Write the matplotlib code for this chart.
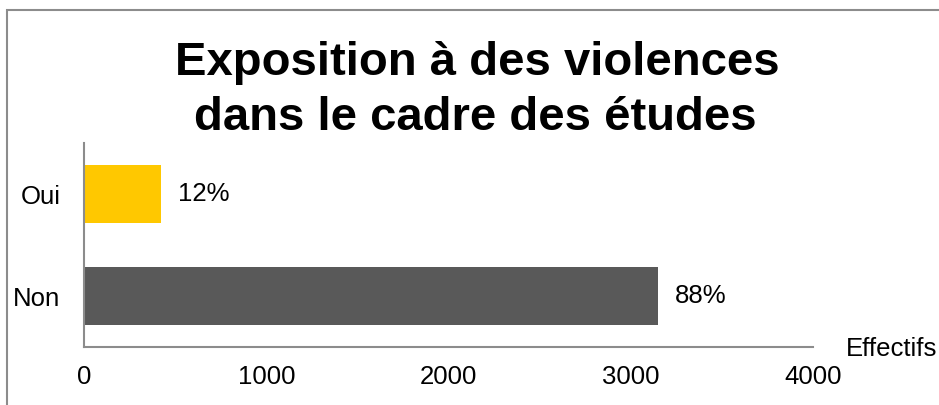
import matplotlib
matplotlib.use("Agg")
import matplotlib.pyplot as plt
from matplotlib.patches import Rectangle

categories = ["Non", "Oui"]
values = [3148, 422]
labels = ["88%", "12%"]
colors = ["#595959", "#FFC800"]
title_lines = ["Exposition à des violences", "dans le cadre des études"]
xticks = [0, 1000, 2000, 3000, 4000]

W, H = 939, 405
fig = plt.figure(figsize=(W / 100, H / 100), dpi=100)
plt.rcParams['font.family'] = ['Liberation Sans', 'DejaVu Sans']

# outer frame (extends beyond right and bottom edges)
fig.patches.append(Rectangle((7 / W, -0.1), 1.2, 1 - 10 / H + 0.1, transform=fig.transFigure,
                             fill=False, edgecolor="#8c8c8c", linewidth=1.5))

left, right, bottom, top = 84, 813, 347, 143
ax = fig.add_axes([left / W, 1 - bottom / H, (right - left) / W, (bottom - top) / H])
ypos = list(range(len(categories)))
ax.barh(ypos, values, height=0.57, color=colors)
ax.set_xlim(0, 4000)
ax.set_ylim(-0.5, 1.5)
ax.set_yticks(ypos)
ax.set_yticklabels(categories, fontsize=18.5)
ax.set_xticks(xticks)
ax.set_xticklabels([str(t) for t in xticks], fontsize=18.5)
ax.tick_params(axis='x', length=0, pad=13)
ax.tick_params(axis='y', length=0, pad=17)
for s in ["top", "right"]:
    ax.spines[s].set_visible(False)
for s in ["left", "bottom"]:
    ax.spines[s].set_color("#8c8c8c")
    ax.spines[s].set_linewidth(1.5)
for y, v, lab in zip(ypos, values, labels):
    ax.annotate(lab, (v, y), xytext=(12, 0), textcoords="offset points",
                va="center", ha="left", fontsize=18.5)
fig.text(846 / W, 1 - 356 / H, "Effectifs", fontsize=18.5, ha="left", va="baseline")

fig.text(477 / W, 1 - 75 / H, title_lines[0], ha="center", va="baseline",
         fontsize=34, fontweight="bold")
fig.text(475 / W, 1 - 130 / H, title_lines[1], ha="center", va="baseline",
         fontsize=34, fontweight="bold")

fig.savefig("out.png", dpi=100)
